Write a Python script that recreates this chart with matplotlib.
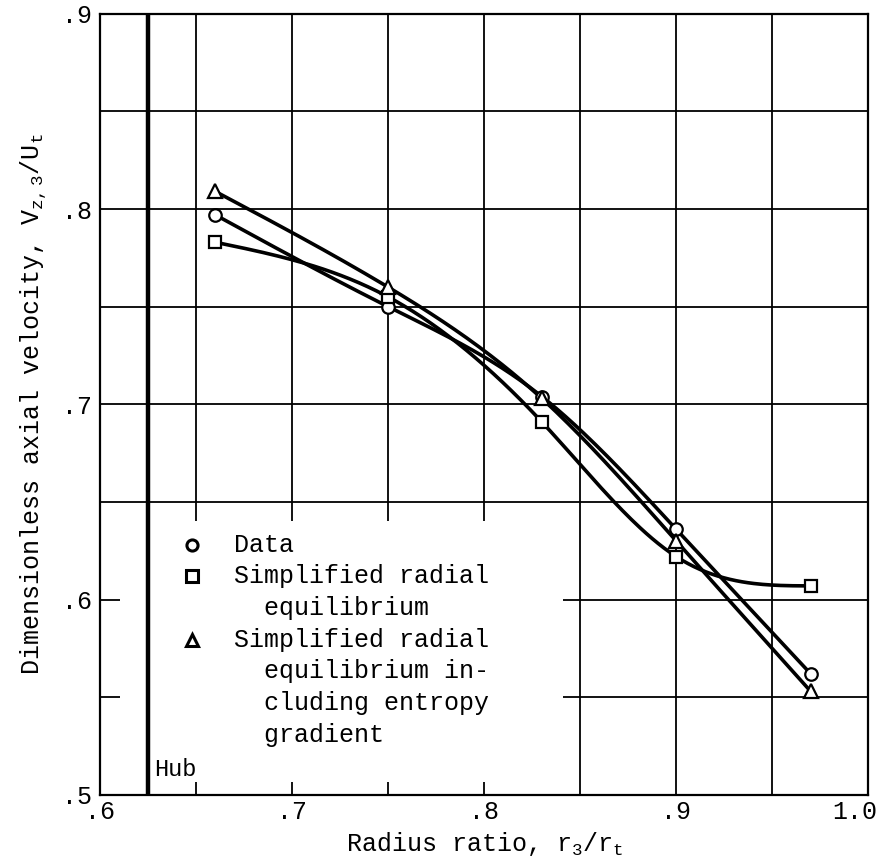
#!/usr/bin/env python3
"""
Axial velocity at station 3 vs radius ratio: data and two radial-equilibrium solutions
"""
import numpy as np
import matplotlib
matplotlib.use("Agg")
import matplotlib.pyplot as plt
import matplotlib.transforms as mtransforms
from matplotlib.patches import Rectangle

# values
radius = [0.66, 0.75, 0.83, 0.90, 0.97]
v_data = [0.797, 0.750, 0.704, 0.636, 0.562]
v_simple = [0.783, 0.755, 0.691, 0.622, 0.607]
v_entropy = [0.809, 0.760, 0.703, 0.630, 0.553]

x_ticks = [0.6, 0.7, 0.8, 0.9, 1.0]
x_labels = [".6", ".7", ".8", ".9", "1.0"]
y_ticks = [0.5, 0.6, 0.7, 0.8, 0.9]
y_labels = [".5", ".6", ".7", ".8", ".9"]
hub_radius = 0.625

FONT = "Liberation Mono"


def natural_spline(x, y, n=200):
    """natural cubic spline through the points, for drawing the faired curve"""
    x = np.asarray(x, float)
    y = np.asarray(y, float)
    npts = len(x)
    h = np.diff(x)
    A = np.zeros((npts, npts))
    b = np.zeros(npts)
    A[0, 0] = 1.0
    A[-1, -1] = 1.0
    for i in range(1, npts - 1):
        A[i, i - 1] = h[i - 1]
        A[i, i] = 2 * (h[i - 1] + h[i])
        A[i, i + 1] = h[i]
        b[i] = 3 * ((y[i + 1] - y[i]) / h[i] - (y[i] - y[i - 1]) / h[i - 1])
    c = np.linalg.solve(A, b)
    xs = np.linspace(x[0], x[-1], n)
    ys = np.empty_like(xs)
    for k, xv in enumerate(xs):
        i = min(np.searchsorted(x, xv, side="right") - 1, npts - 2)
        dx = xv - x[i]
        bi = (y[i + 1] - y[i]) / h[i] - h[i] * (2 * c[i] + c[i + 1]) / 3
        di = (c[i + 1] - c[i]) / (3 * h[i])
        ys[k] = y[i] + bi * dx + c[i] * dx ** 2 + di * dx ** 3
    return xs, ys


def main():
    plt.rcParams["font.family"] = [FONT, "DejaVu Sans"]
    plt.rcParams["mathtext.default"] = "regular"
    fs = 18

    fig = plt.figure(figsize=(8.86, 8.63), dpi=100)
    ax = fig.add_axes([0.113, 0.079, 0.867, 0.905])
    ax.set_xlim(0.6, 1.0)
    ax.set_ylim(0.5, 0.9)

    ax.set_xticks(x_ticks)
    ax.set_xticklabels(x_labels)
    ax.set_yticks(y_ticks)
    ax.set_yticklabels(y_labels)
    ax.set_xticks(np.arange(0.65, 1.0, 0.1), minor=True)
    ax.set_yticks(np.arange(0.55, 0.9, 0.1), minor=True)
    ax.tick_params(which="both", length=0, labelsize=fs)
    ax.tick_params(axis="x", pad=4)
    ax.tick_params(axis="y", pad=6)
    # last x label sits a bit inside the frame edge
    lab = ax.get_xticklabels()[-1]
    lab.set_transform(lab.get_transform() +
                      mtransforms.ScaledTranslation(-10 / 72, 0, fig.dpi_scale_trans))
    ax.set_axisbelow(True)
    ax.grid(which="both", color="black", lw=1.3)
    for sp in ax.spines.values():
        sp.set_linewidth(1.6)

    # white box behind the key hides the grid there
    ax.add_patch(Rectangle((0.6105, 0.5065), 0.2305, 0.1335,
                           facecolor="white", edgecolor="none", zorder=1))
    ax.axvline(hub_radius, color="black", lw=3.2, zorder=2)
    ax.text(hub_radius + 0.003, 0.5095, "Hub", fontsize=fs - 1, ha="left",
            va="baseline", zorder=6)

    series = [(v_data, "o"), (v_simple, "s"), (v_entropy, "^")]
    for vals, mk in series:
        xs, ys = natural_spline(radius, vals)
        ax.plot(xs, ys, color="black", lw=2.6, zorder=3, solid_capstyle="round")
        ax.plot(radius, vals, linestyle="none", marker=mk, ms=9 if mk != "^" else 10,
                mfc="white", mec="black", mew=1.6, zorder=4)

    # key
    key_x = 0.648
    txt_x = 0.6695
    rows = [("o", ["Data"]),
            ("s", ["Simplified radial", "  equilibrium"]),
            ("^", ["Simplified radial", "  equilibrium in-",
                   "  cluding entropy", "  gradient"])]
    line_dy = 0.0163
    y_rows = [0.6280, 0.6120, 0.5795]
    for yr, (mk, lines) in zip(y_rows, rows):
        ax.plot([key_x], [yr], linestyle="none", marker=mk, ms=8, mfc="white",
                mec="black", mew=2.2, zorder=6)
        for j, line in enumerate(lines):
            ax.text(txt_x, yr - j * line_dy, line, fontsize=fs, ha="left",
                    va="center", zorder=6)

    ax.set_xlabel(r"Radius ratio, r$_3$/r$_t$", fontsize=fs, labelpad=4)
    ax.set_ylabel(r"Dimensionless axial velocity, V$_{z,3}$/U$_t$", fontsize=fs,
                  labelpad=10)

    fig.savefig("out.png", dpi=100)


if __name__ == "__main__":
    main()
